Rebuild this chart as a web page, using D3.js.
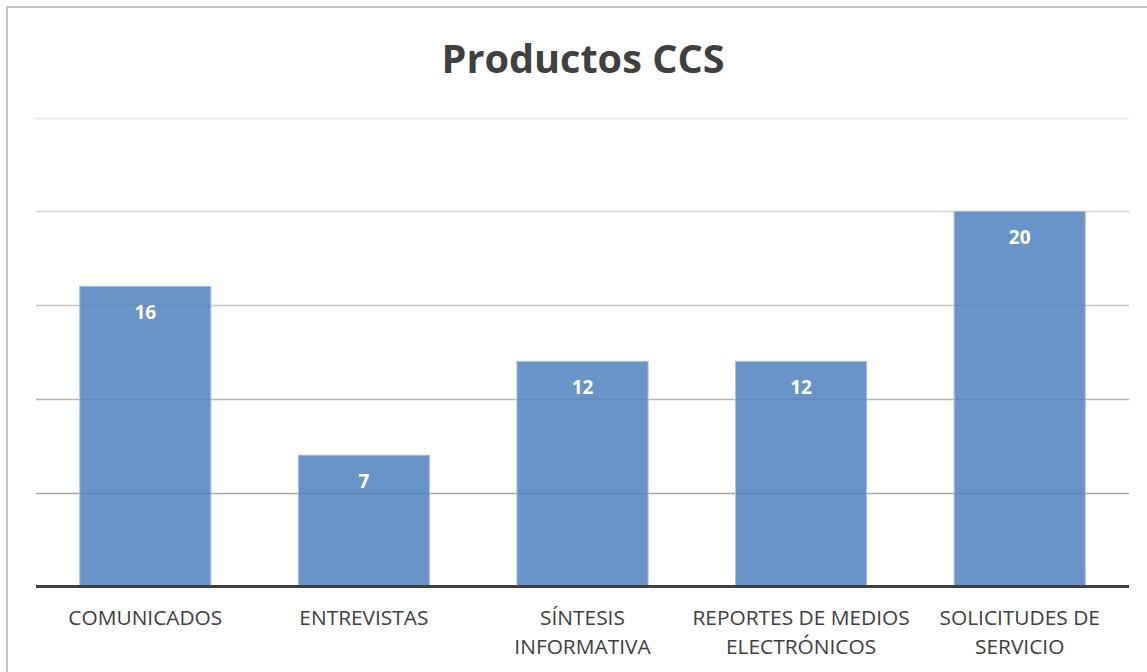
<!DOCTYPE html>
<html><head><meta charset="utf-8">
<script src="https://cdn.jsdelivr.net/npm/d3@7"></script>
<style>html,body{margin:0;padding:0;background:#fff;}svg{display:block;}</style>
</head><body>
<svg id="c" width="1147" height="672"></svg>
<script>
const categories = [["COMUNICADOS"],["ENTREVISTAS"],["SÍNTESIS","INFORMATIVA"],["REPORTES DE MEDIOS","ELECTRÓNICOS"],["SOLICITUDES DE","SERVICIO"]];
const values = [16, 7, 12, 12, 20];
const yTicks = [0, 5, 10, 15, 20, 25];
const title = "Productos CCS";

const svg = d3.select("#c");
const font = "'Open Sans', 'Noto Sans', sans-serif";

svg.append("rect").attr("x",7).attr("y",7).attr("width",1160).attr("height",700)
  .attr("fill","#fff").attr("stroke","#c4c4c4").attr("stroke-width",2);

const x = d3.scaleBand().domain(d3.range(categories.length)).range([36,1129]).paddingInner(0.4).paddingOuter(0.2);
const y = d3.scaleLinear().domain([0,25]).range([586.5,117.5]);

const gridColor = d3.scaleLinear().domain([5,25]).range(["#a8a8a8","#e4e4e4"]);
svg.append("g").selectAll("line").data(yTicks.filter(t=>t>0)).join("line")
  .attr("x1",36).attr("x2",1129).attr("y1",d=>Math.round(y(d))+0.5).attr("y2",d=>Math.round(y(d))+0.5)
  .attr("stroke",d=>gridColor(d)).attr("stroke-width",1.5);

svg.append("g").selectAll("rect").data(values).join("rect")
  .attr("x",(d,i)=>x(i)).attr("width",x.bandwidth())
  .attr("y",d=>y(d)).attr("height",d=>y(0)-y(d))
  .attr("fill","#4f81bd").attr("fill-opacity",0.85)
  .attr("stroke","#a9c3e2").attr("stroke-width",1);

svg.append("line").attr("x1",36).attr("x2",1129).attr("y1",y(0)).attr("y2",y(0))
  .attr("stroke","#404040").attr("stroke-width",3);

function fit(sel, target){
  const w = sel.node().getComputedTextLength();
  const fs = parseFloat(sel.attr("font-size"));
  sel.attr("font-size", fs*target/w);
}

svg.append("g").selectAll("text").data(values).join("text")
  .attr("x",(d,i)=>x(i)+x.bandwidth()/2).attr("y",d=>y(d)+33)
  .attr("text-anchor","middle").attr("fill","#fff").attr("font-weight","bold")
  .attr("font-family",font).attr("font-size",19).text(d=>d);

const lab = svg.append("g").selectAll("text").data(categories).join("text")
  .attr("text-anchor","middle").attr("fill","#404040").attr("font-family",font).attr("font-size",19);
lab.each(function(lines,i){
  const t = d3.select(this);
  lines.forEach((l,j)=>{
    t.append("tspan").attr("x",x(i)+x.bandwidth()/2).attr("y",625+j*28.5).text(l);
  });
});
// scale axis label font to match reference width of "COMUNICADOS" (~154px)
const probe = svg.append("text").attr("font-family",font).attr("font-size",19).text("COMUNICADOS");
const pw = probe.node().getComputedTextLength(); probe.remove();
lab.attr("font-size", 19*154/pw);

const tt = svg.append("text").attr("x",583).attr("y",73).attr("text-anchor","middle")
  .attr("font-family",font).attr("font-weight","bold").attr("font-size",40).attr("fill","#404040").text(title);
fit(tt, 283);
</script>
</body></html>
